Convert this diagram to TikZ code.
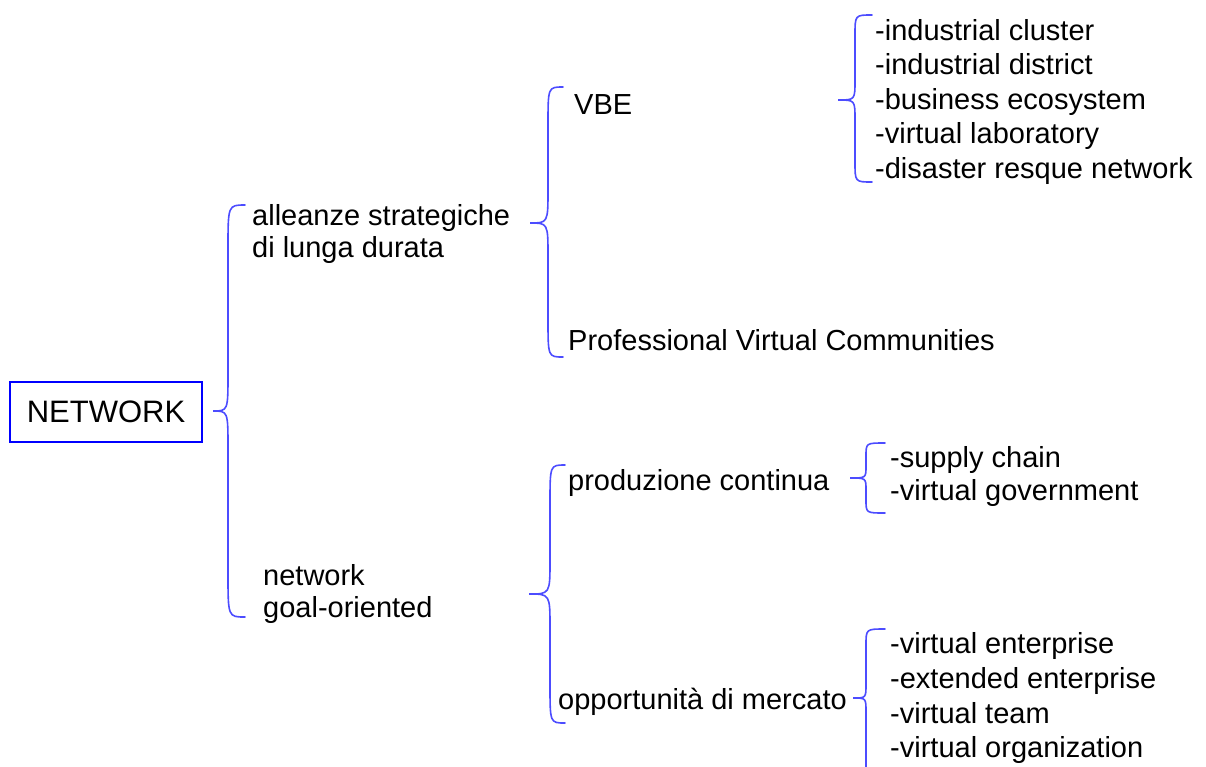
\documentclass[tikz,border=0pt]{standalone}
\usepackage{fontspec}
\setmainfont{Liberation Sans}
\tikzset{
  lbl/.style={anchor=base west, inner sep=0pt, text=black,
    font=\fontsize{29}{34}\selectfont},
  curly/.style={draw=blue!70!white, line width=1.6pt, line cap=round},
  rootbox/.style={draw=blue, line width=2pt, minimum width=192pt,
    minimum height=60pt, inner sep=0pt, font=\fontsize{31}{36}\selectfont}
}
% left curly brace: #1 end x, #2 spine x, #3 tip x, #4 top y, #5 tip y, #6 bottom y,
% #7 end bend, #8 tip bend
\newcommand\curlyb[8]{%
  \draw[curly] (#1,#4) .. controls (#2,#4) .. (#2,#4+#7)
    -- (#2,#5-#8) .. controls (#2,#5) .. (#3,#5)
    .. controls (#2,#5) .. (#2,#5+#8)
    -- (#2,#6-#7) .. controls (#2,#6) .. (#1,#6);}
\begin{document}
\begin{tikzpicture}[x=1pt,y=-1pt]
\useasboundingbox (0,0) rectangle (1206,766);
\clip (0,0) rectangle (1206,766);

% root
\node[rootbox] (root) at (106,412) {NETWORK};

% first level
\curlyb{245}{228}{213}{205}{411}{617}{44}{38}
\node[lbl] (lunga) at (252,225) {alleanze strategiche};
\node[lbl] (lunga2) at (252,257) {di lunga durata};
\node[lbl] (goal) at (263,585) {network};
\node[lbl] (goal2) at (263,617) {goal-oriented};

% long-term alliances
\curlyb{563}{548}{530}{87}{223}{357}{38}{34}
\node[lbl] (vbe) at (574,114) {VBE};
\node[lbl] (pvc) at (568,350) {Professional Virtual Communities};

\curlyb{872}{855}{838}{15}{100}{182}{20}{20}
\node[lbl] (v1) at (875,40) {-industrial cluster};
\node[lbl] (v2) at (875,74.5) {-industrial district};
\node[lbl] (v3) at (875,109) {-business ecosystem};
\node[lbl] (v4) at (875,143.5) {-virtual laboratory};
\node[lbl] (v5) at (875,178) {-disaster resque network};

% goal-oriented networks
\curlyb{565}{550}{529}{465}{594}{723}{38}{34}
\node[lbl] (prod) at (568,490) {produzione continua};
\node[lbl] (opp) at (558,709) {opportunità di mercato};

\curlyb{885}{866}{850}{443}{478}{513}{13}{12}
\node[lbl] (p1) at (890,467) {-supply chain};
\node[lbl] (p2) at (890,500) {-virtual government};

% market opportunities brace, running off the lower edge
\draw[curly] (885,629) .. controls (866,629) .. (866,645)
  -- (866,684) .. controls (866,698) .. (853,698)
  .. controls (866,698) .. (866,712) -- (866,770);
\node[lbl] (o1) at (890,653) {-virtual enterprise};
\node[lbl] (o2) at (890,688) {-extended enterprise};
\node[lbl] (o3) at (890,723) {-virtual team};
\node[lbl] (o4) at (890,757) {-virtual organization};
\end{tikzpicture}
\end{document}
